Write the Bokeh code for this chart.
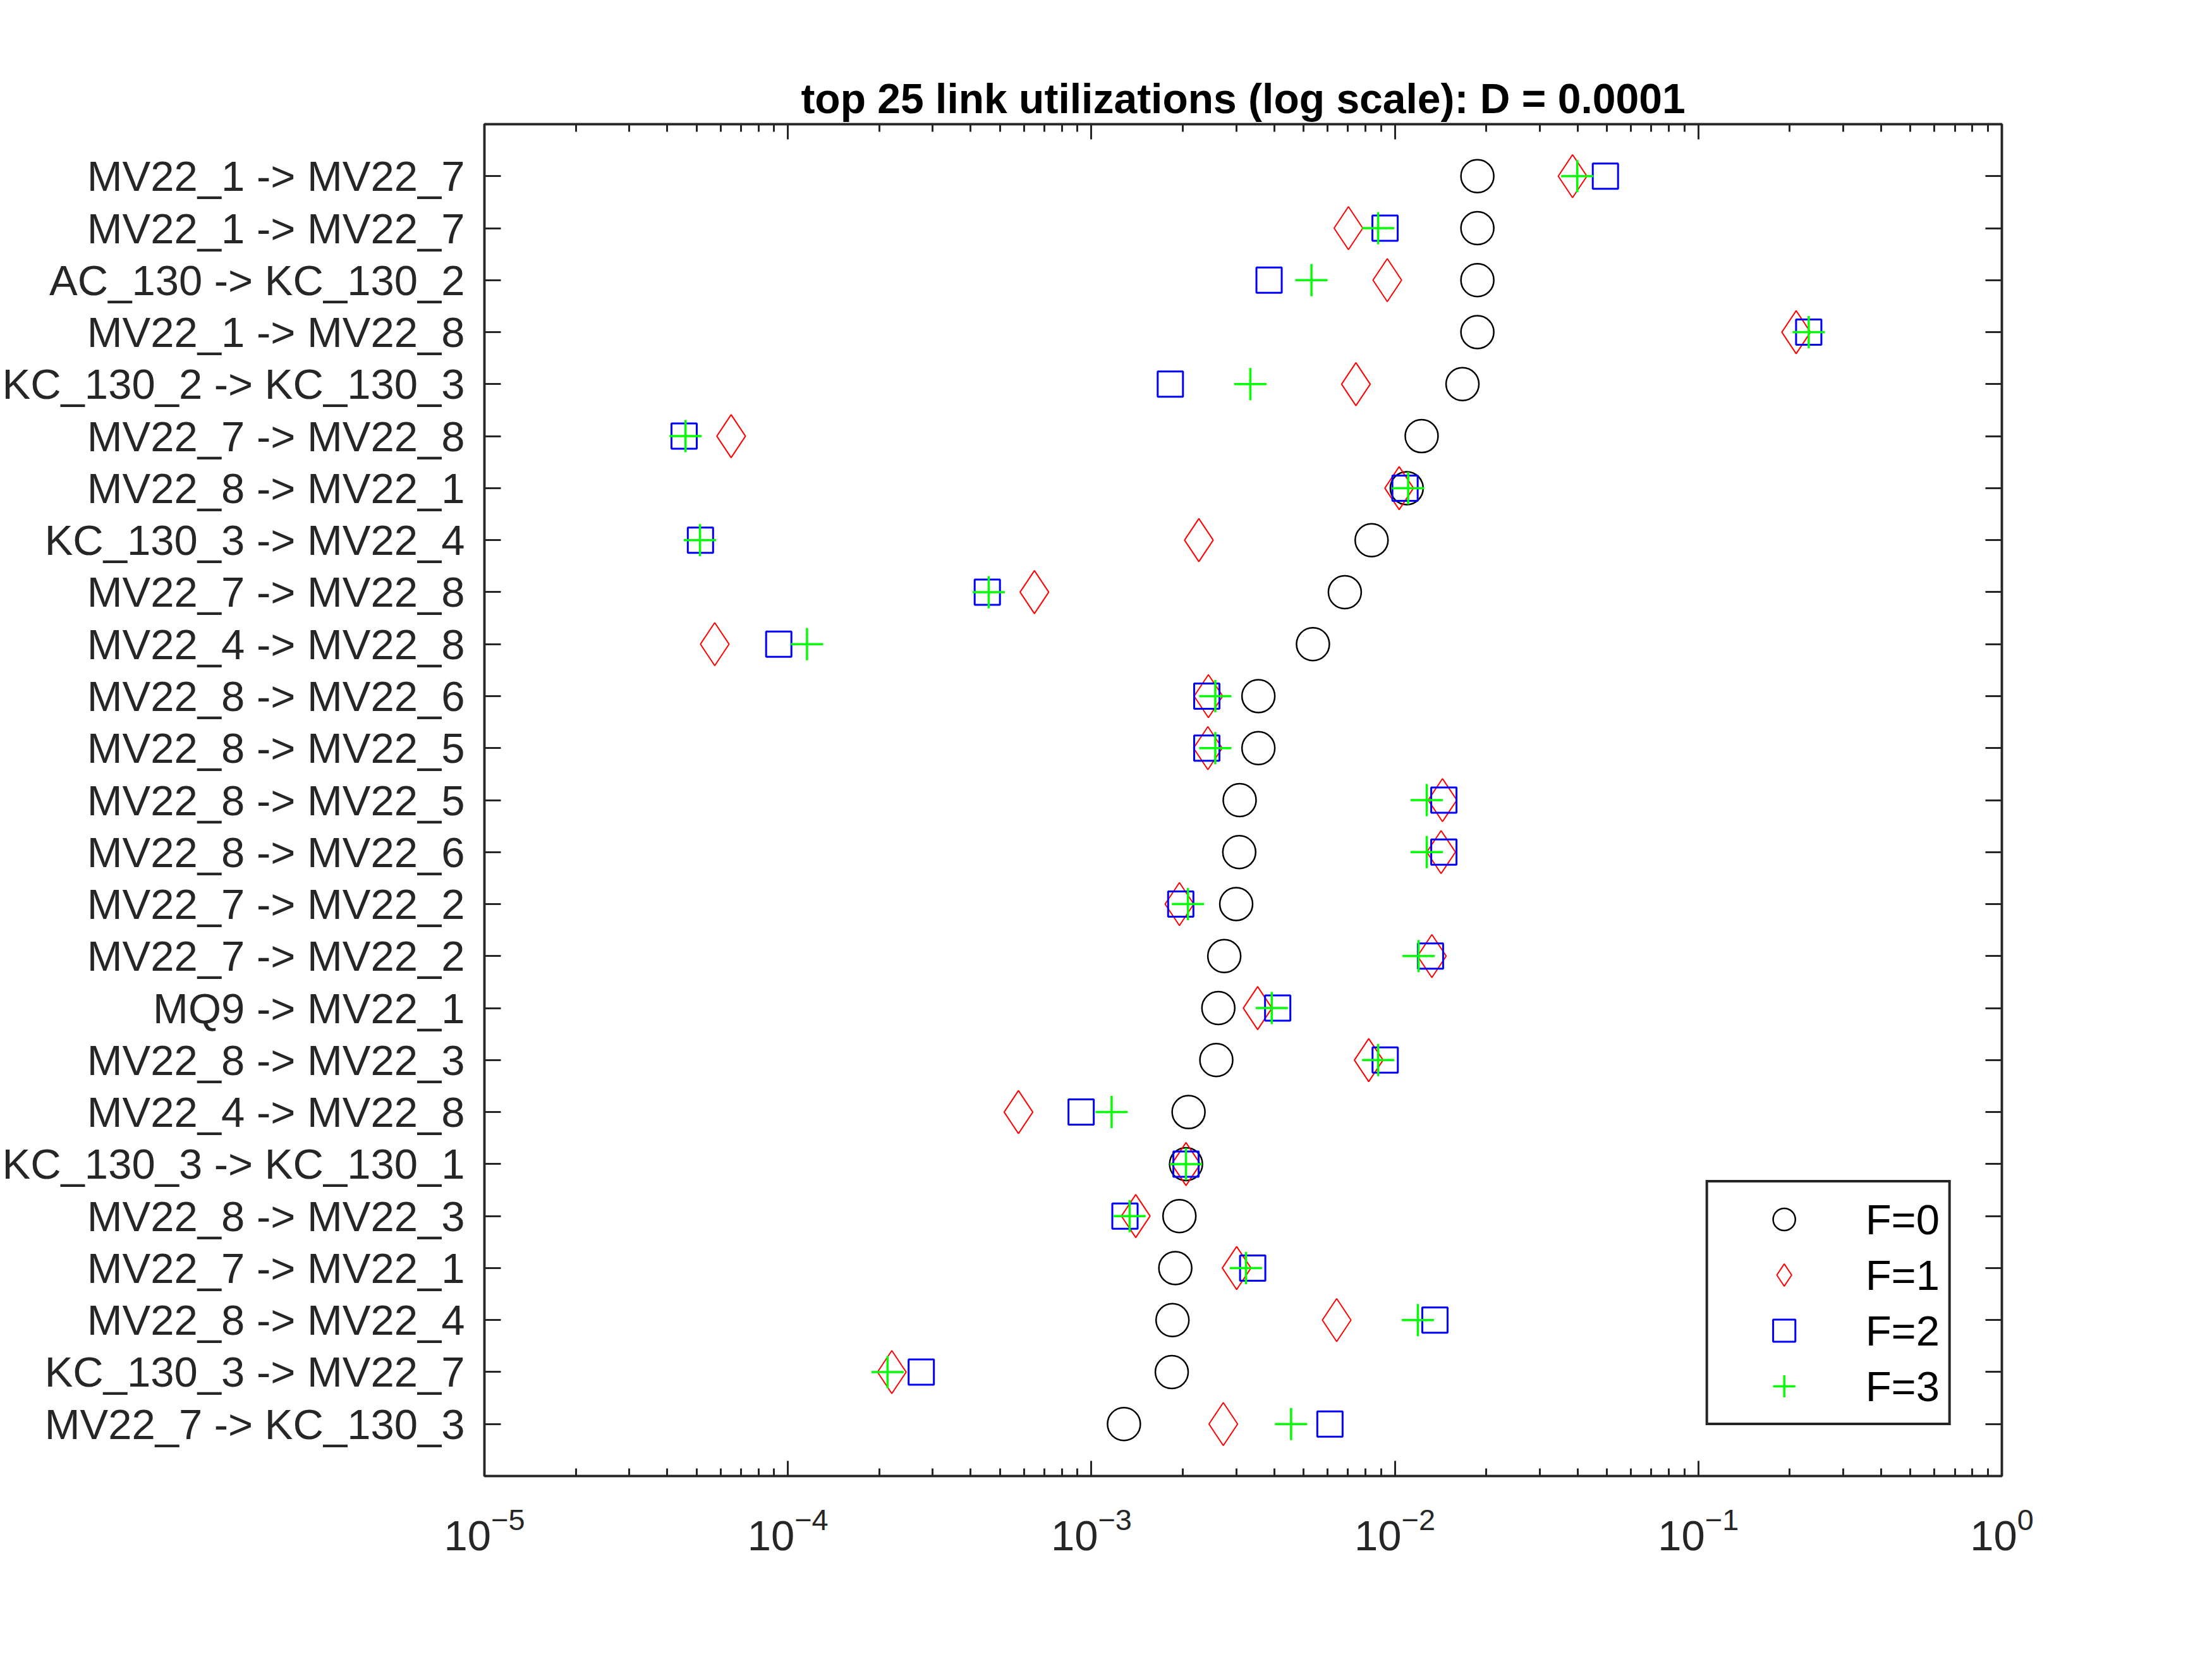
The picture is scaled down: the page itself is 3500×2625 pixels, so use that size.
from bokeh.plotting import figure
from bokeh.models import Range1d, FixedTicker, LogAxis, LinearAxis, ColumnDataSource
from bokeh.embed import file_html
from bokeh.resources import INLINE

# Link names, top row first
links = [
    "MV22_1 -> MV22_7", "MV22_1 -> MV22_7", "AC_130 -> KC_130_2", "MV22_1 -> MV22_8",
    "KC_130_2 -> KC_130_3", "MV22_7 -> MV22_8", "MV22_8 -> MV22_1", "KC_130_3 -> MV22_4",
    "MV22_7 -> MV22_8", "MV22_4 -> MV22_8", "MV22_8 -> MV22_6", "MV22_8 -> MV22_5",
    "MV22_8 -> MV22_5", "MV22_8 -> MV22_6", "MV22_7 -> MV22_2", "MV22_7 -> MV22_2",
    "MQ9 -> MV22_1", "MV22_8 -> MV22_3", "MV22_4 -> MV22_8", "KC_130_3 -> KC_130_1",
    "MV22_8 -> MV22_3", "MV22_7 -> MV22_1", "MV22_8 -> MV22_4", "KC_130_3 -> MV22_7",
    "MV22_7 -> KC_130_3",
]

# Link utilization per failure count F
util_f0 = [0.0187, 0.0187, 0.0187, 0.0187, 0.0167, 0.01225, 0.01094, 0.00838, 0.00684, 0.00537,
           0.00355, 0.00355, 0.00308, 0.00307, 0.00300, 0.00274, 0.00262, 0.00258, 0.00209, 0.00205,
           0.00195, 0.00189, 0.00185, 0.00184, 0.00128]
util_f1 = [0.0385, 0.00703, 0.00944, 0.210, 0.00744, 6.5e-5, 0.01033, 0.00226, 6.49e-4, 5.74e-5,
           0.00243, 0.00242, 0.01435, 0.0142, 0.00195, 0.01324, 0.00353, 0.0082, 5.75e-4, 0.00205,
           0.00140, 0.00301, 0.00643, 2.20e-4, 0.00272]
util_f2 = [0.0494, 0.00928, 0.00385, 0.231, 0.00182, 4.55e-5, 0.0108, 5.15e-5, 4.54e-4, 9.33e-5,
           0.00240, 0.00240, 0.0145, 0.0145, 0.00197, 0.0131, 0.00411, 0.00929, 9.25e-4, 0.00205,
           0.00129, 0.00340, 0.01355, 2.75e-4, 0.00611]
util_f3 = [0.0399, 0.00881, 0.00531, 0.231, 0.00334, 4.6e-5, 0.01106, 5.13e-5, 4.59e-4, 1.156e-4,
           0.00256, 0.00256, 0.01273, 0.01273, 0.00208, 0.01197, 0.00393, 0.00881, 0.001166, 0.00205,
           0.001336, 0.00323, 0.0119, 2.13e-4, 0.00455]

decades = [1e-5, 1e-4, 1e-3, 1e-2, 1e-1, 1.0]
minor = [m * 10.0 ** k for k in range(-5, 0) for m in range(2, 10)]
rows = list(range(1, len(links) + 1))

FONT = "Liberation Sans"
AX = "#262626"
FS = "67px"

src = ColumnDataSource(dict(row=rows, f0=util_f0, f1=util_f1, f2=util_f2, f3=util_f3))

p = figure(width=3500, height=2625, x_axis_type="log",
           x_range=Range1d(1e-5, 1.0), y_range=Range1d(26, 0),
           output_backend="svg", toolbar_location=None,
           min_border_left=763, min_border_right=333, min_border_top=196, min_border_bottom=290,
           title="top 25 link utilizations (log scale): D = 0.0001")

p.background_fill_color = "white"
p.border_fill_color = "white"
p.grid.visible = False
p.outline_line_color = AX
p.outline_line_alpha = 1.0
p.outline_line_width = 3.5

p.title.align = "center"
p.title.text_font = FONT
p.title.text_font_size = "66px"
p.title.text_font_style = "bold"
p.title.text_color = "black"
p.title.standoff = 8

def style_axis(ax, show_labels):
    ax.axis_line_color = AX
    ax.axis_line_width = 3.5
    ax.major_tick_line_color = AX
    ax.minor_tick_line_color = AX
    ax.major_tick_line_width = 3
    ax.minor_tick_line_width = 3
    ax.major_tick_in = 24
    ax.major_tick_out = 0
    ax.minor_tick_in = 12
    ax.minor_tick_out = 0
    ax.major_label_text_font = FONT
    ax.major_label_text_color = AX
    if show_labels:
        ax.major_label_text_font_size = FS
    else:
        ax.major_label_text_font_size = "1px"
        ax.major_label_text_alpha = 0
        ax.major_label_standoff = 0

# bottom: decades with minor ticks
xb = p.xaxis[0]
xb.ticker = FixedTicker(ticks=decades, minor_ticks=minor)
style_axis(xb, True)
xb.major_label_standoff = 50

# top mirror
xt = LogAxis(ticker=FixedTicker(ticks=decades, minor_ticks=minor))
style_axis(xt, False)
p.add_layout(xt, "above")

# left: link names
yl = p.yaxis[0]
yl.ticker = FixedTicker(ticks=rows)
yl.major_label_overrides = {r: name for r, name in zip(rows, links)}
style_axis(yl, True)
yl.major_label_standoff = 31
yl.major_tick_in = 26
yl.minor_tick_in = 0

# right mirror
yr = LinearAxis(ticker=FixedTicker(ticks=rows))
style_axis(yr, False)
yr.major_tick_in = 26
yr.minor_tick_in = 0
p.add_layout(yr, "right")

p.scatter("f0", "row", source=src, marker="circle", size=52, fill_color=None,
          line_color="black", line_width=2.5, legend_label="F=0")
p.scatter("f1", "row", source=src, marker="diamond", size=68, fill_color=None,
          line_color="#ff0000", line_width=2, legend_label="F=1")
p.scatter("f2", "row", source=src, marker="square", size=40, fill_color=None,
          line_color="#0000ff", line_width=3, legend_label="F=2")
p.scatter("f3", "row", source=src, marker="cross", size=51,
          line_color="#00ff00", line_width=3.5, legend_label="F=3")

lg = p.legend[0]
lg.location = "bottom_right"
lg.margin = 80
lg.padding = 14
lg.spacing = 0
lg.glyph_width = 212
lg.glyph_height = 88
lg.label_height = 88
lg.label_standoff = 23
lg.label_text_font = FONT
lg.label_text_font_size = FS
lg.label_text_color = "black"
lg.border_line_color = AX
lg.border_line_alpha = 1.0
lg.border_line_width = 4
lg.background_fill_color = "white"
lg.background_fill_alpha = 1.0

open("out.html", "w").write(file_html(p, INLINE))
